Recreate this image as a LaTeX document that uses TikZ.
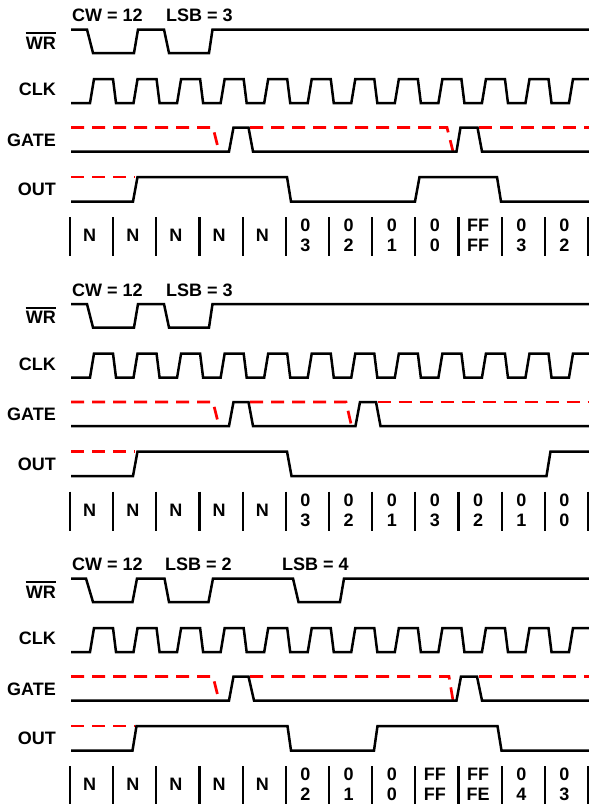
\documentclass[tikz,border=0pt]{standalone}
\usepackage{fontspec}
\setmainfont{Liberation Sans}

\tikzset{
  sig/.style={line width=2.5pt},
  alt/.style={red, line width=2.7pt, dash pattern=on 13pt off 8pt},
  sep/.style={line width=2.2pt},
  lab/.style={font=\fontsize{18}{20}\selectfont\bfseries, inner sep=0pt},
}

\begin{document}
\begin{tikzpicture}[x=1pt, y=-1pt]
  \useasboundingbox (0,0) rectangle (589,804);

  % Parti comuni: etichette, CLK e celle del contatore
  \foreach \s/\dy/\cells in {%
      1/0/{N,N,N,N,N,0\\3,0\\2,0\\1,0\\0,FF\\FF,0\\3,0\\2},%
      2/274.5/{N,N,N,N,N,0\\3,0\\2,0\\1,0\\3,0\\2,0\\1,0\\0},%
      3/549/{N,N,N,N,N,0\\2,0\\1,0\\0,FF\\FF,FF\\FE,0\\4,0\\3}} {
    \begin{scope}[shift={(0,\dy)}]
      \node[lab, anchor=east] (wr\s) at (56,43) {WR};
      \draw[line width=1.8pt] ([yshift=3.5pt]wr\s.north west) -- ([yshift=3.5pt]wr\s.north east);
      \node[lab, anchor=east] (clk\s) at (56,89.5) {CLK};
      \node[lab, anchor=east] (gate\s) at (56,140) {GATE};
      \node[lab, anchor=east] (out\s) at (56,189.5) {OUT};
      % Clock
      \draw[sig] (71,103) \foreach \k in {0,...,10} {
          -- ({90+43.55*\k},103) -- ({94+43.55*\k},79)
          -- ({113+43.55*\k},79) -- ({116+43.55*\k},103)}
        -- (569,103) -- (573,79) -- (589,79);
      % Celle
      \foreach \k in {0,...,12}
        \draw[sep] ({70+43.17*\k},217) -- ({70+43.17*\k},256);
      \foreach \t [count=\k from 0] in \cells
        \node[lab, align=center] (n\s-\k) at ({89.6+43.17*\k},235.5) {\t};
    \end{scope}
  }

  % Sezione 1
  \begin{scope}
    \node[lab, anchor=west] (cw1) at (72,15.5) {CW = 12};
    \node[lab, anchor=west] (lsb1) at (166,15.5) {LSB = 3};
    \draw[sig] (71,29.5) -- (87,29.5) -- (93,53) -- (134,53) -- (138,29.5) -- (164,29.5)
      -- (169,53) -- (209,53) -- (212.5,29.5) -- (589,29.5);
    \draw[alt] (71,127.5) -- (213,127.5) -- (219,151.5);
    \draw[alt] (250,127.5) -- (447,127.5) -- (453,151.5);
    \draw[alt] (479,127.5) -- (589,127.5);
    \draw[sig] (71,151.5) -- (229,151.5) -- (233.5,127.5) -- (248.5,127.5) -- (253,151.5)
      -- (456.5,151.5) -- (460.5,127.5) -- (477.5,127.5) -- (482,151.5) -- (589,151.5);
    \draw[alt] (71,177) -- (135,177);
    \draw[sig] (71,201.5) -- (133,201.5) -- (137.5,177) -- (287,177) -- (291,201.5)
      -- (415,201.5) -- (419.5,177) -- (497,177) -- (501,201.5) -- (589,201.5);
  \end{scope}

  % Sezione 2
  \begin{scope}[shift={(0,274.5)}]
    \node[lab, anchor=west] (cw2) at (72,15.5) {CW = 12};
    \node[lab, anchor=west] (lsb2) at (166,15.5) {LSB = 3};
    \draw[sig] (71,29.5) -- (87,29.5) -- (93,53) -- (134,53) -- (138,29.5) -- (164,29.5)
      -- (169,53) -- (209,53) -- (212.5,29.5) -- (589,29.5);
    \draw[alt] (71,127.5) -- (213,127.5) -- (219,151.5);
    \draw[alt] (250,127.5) -- (346,127.5) -- (351.5,151.5);
    \draw[alt] (377.5,127.5) -- (589,127.5);
    \draw[sig] (71,151.5) -- (229,151.5) -- (233.5,127.5) -- (248.5,127.5) -- (253,151.5)
      -- (355.5,151.5) -- (360,127.5) -- (376,127.5) -- (380.5,151.5) -- (589,151.5);
    \draw[alt] (71,177) -- (135,177);
    \draw[sig] (71,201.5) -- (133,201.5) -- (137.5,177) -- (287,177) -- (291.5,201.5)
      -- (546.5,201.5) -- (550.5,177) -- (589,177);
  \end{scope}

  % Sezione 3
  \begin{scope}[shift={(0,549)}]
    \node[lab, anchor=west] (cw3) at (72,15.5) {CW = 12};
    \node[lab, anchor=west] (lsb3) at (165,15.5) {LSB = 2};
    \node[lab, anchor=west] (lsb4) at (282,15.5) {LSB = 4};
    \draw[sig] (71,29.5) -- (86,29.5) -- (93,53) -- (132.5,53) -- (137,29.5) -- (164.5,29.5)
      -- (169,53) -- (208.5,53) -- (213,29.5) -- (293,29.5) -- (298.5,53) -- (340,53)
      -- (344,29.5) -- (589,29.5);
    \draw[alt] (71,127.5) -- (213,127.5) -- (219,151.5);
    \draw[alt] (250,127.5) -- (449,127.5) -- (453,151.5);
    \draw[alt] (479,127.5) -- (589,127.5);
    \draw[sig] (71,151.5) -- (229,151.5) -- (233.5,127.5) -- (248.5,127.5) -- (254,151.5)
      -- (456.5,151.5) -- (461,127.5) -- (477,127.5) -- (482,151.5) -- (589,151.5);
    \draw[alt] (71,177) -- (135,177);
    \draw[sig] (71,201.5) -- (132.5,201.5) -- (136.5,177) -- (287.5,177) -- (291,201.5)
      -- (374,201.5) -- (377.5,177) -- (497.5,177) -- (501.5,201.5) -- (589,201.5);
  \end{scope}
\end{tikzpicture}
\end{document}
